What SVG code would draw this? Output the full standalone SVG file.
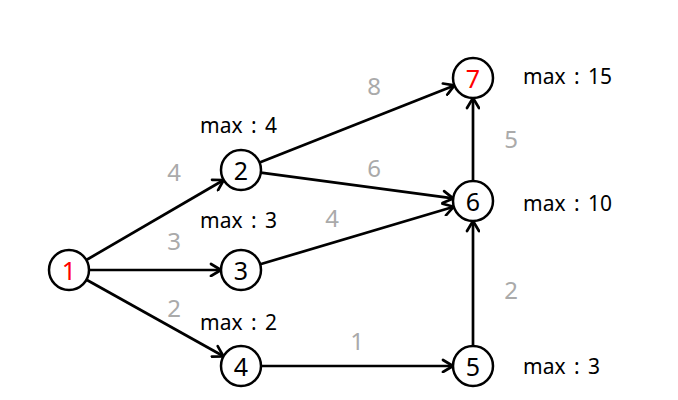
<svg xmlns="http://www.w3.org/2000/svg" width="678" height="400" viewBox="0 0 678 400">
<style>
.n circle{fill:#fff;stroke:#000;stroke-width:2.5}
.n text{font-family:"Noto Sans","Open Sans",sans-serif;font-size:25px;text-anchor:middle;dominant-baseline:central;fill:#000}
.n text.r{fill:#f00}
.e line{stroke:#000;stroke-width:2.7;marker-end:url(#ah)}
.w{font-family:"Noto Sans","Open Sans",sans-serif;font-size:24px;fill:#aaa;text-anchor:middle;dominant-baseline:central}
.m{font-family:"Noto Sans","Open Sans",sans-serif;font-size:21px;fill:#000;dominant-baseline:central;word-spacing:3px}
</style>
<defs>
<marker id="ah" markerUnits="userSpaceOnUse" markerWidth="16" markerHeight="16" viewBox="-3 -3 16 16" refX="10" refY="6" orient="auto">
<path d="M0,0 L10,6 L0,12" fill="none" stroke="#000" stroke-width="2.7" stroke-linecap="round" stroke-linejoin="round"/>
</marker>
</defs>
<rect width="678" height="400" fill="#fff"/>
<g id="edges" class="e">
<line x1="86.3" y1="260" x2="223.7" y2="180"/>
<line x1="89" y1="270" x2="221" y2="270"/>
<line x1="86.5" y1="279.7" x2="223.5" y2="356.3"/>
<line x1="259.6" y1="162.6" x2="454.4" y2="85.4"/>
<line x1="260.8" y1="172.7" x2="453.2" y2="198.4"/>
<line x1="260.2" y1="264.3" x2="453.8" y2="206.7"/>
<line x1="261" y1="366" x2="453" y2="366"/>
<line x1="473" y1="346" x2="473" y2="221"/>
<line x1="473" y1="181" x2="473" y2="98"/>
</g>
<g id="edge-labels">
<text class="w" x="174" y="171">4</text>
<text class="w" x="174" y="240">3</text>
<text class="w" x="174" y="307">2</text>
<text class="w" x="374" y="85">8</text>
<text class="w" x="374" y="167">6</text>
<text class="w" x="332" y="217">4</text>
<text class="w" x="357" y="340">1</text>
<text class="w" x="511" y="138">5</text>
<text class="w" x="511" y="289">2</text>
</g>
<g id="max-labels">
<text class="m" x="200" y="125">max : 4</text>
<text class="m" x="200" y="220">max : 3</text>
<text class="m" x="200" y="322">max : 2</text>
<text class="m" x="523" y="76">max : 15</text>
<text class="m" x="523" y="203">max : 10</text>
<text class="m" x="523" y="366">max : 3</text>
</g>
<g id="node1" class="n"><circle cx="69" cy="270" r="20"/><text class="r" x="69" y="270">1</text></g>
<g id="node2" class="n"><circle cx="241" cy="170" r="20"/><text x="241" y="170">2</text></g>
<g id="node3" class="n"><circle cx="241" cy="270" r="20"/><text x="241" y="270">3</text></g>
<g id="node4" class="n"><circle cx="241" cy="366" r="20"/><text x="241" y="366">4</text></g>
<g id="node5" class="n"><circle cx="473" cy="366" r="20"/><text x="473" y="366">5</text></g>
<g id="node6" class="n"><circle cx="473" cy="201" r="20"/><text x="473" y="201">6</text></g>
<g id="node7" class="n"><circle cx="473" cy="78" r="20"/><text class="r" x="473" y="78">7</text></g>
</svg>
